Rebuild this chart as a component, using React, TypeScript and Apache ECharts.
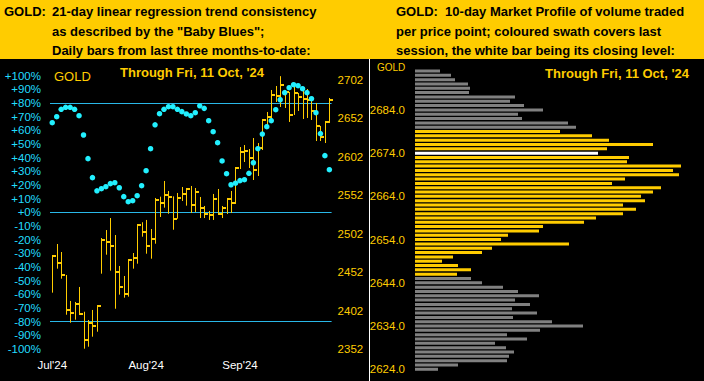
import React, { useEffect, useRef } from "react";
import * as echarts from "echarts";

// ---------- Left panel: daily bars (Jul'24 .. 11 Oct '24) ----------
const monthLabels: { index: number; label: string }[] = [
  { index: 0, label: "Jul'24" },
  { index: 21, label: "Aug'24" },
  { index: 42, label: "Sep'24" },
];

const highs = [2473.9, 2488.6, 2478.2, 2448.3, 2414.5, 2413.2, 2432.7, 2400.5, 2389.7, 2402.8, 2408.3, 2496.4, 2506.8, 2522.4, 2500.3, 2460.0, 2447.0, 2468.7, 2476.9, 2514.3, 2516.9, 2519.9, 2508.1, 2548.5, 2550.2, 2570.6, 2557.6, 2550.6, 2555.0, 2562.8, 2561.5, 2564.1, 2561.5, 2549.8, 2538.1, 2531.6, 2553.7, 2560.2, 2538.1, 2548.5, 2557.6, 2588.8, 2614.8, 2617.4, 2612.2, 2626.5, 2620.0, 2651.3, 2660.4, 2689.0, 2694.2, 2707.0, 2689.0, 2686.4, 2692.9, 2685.1, 2689.0, 2690.3, 2676.0, 2672.1, 2642.2, 2648.7, 2678.6];
const lows = [2425.3, 2456.5, 2443.5, 2396.6, 2386.2, 2390.1, 2396.6, 2352.4, 2355.0, 2368.0, 2374.5, 2450.0, 2474.7, 2453.9, 2404.4, 2422.7, 2418.8, 2420.1, 2456.5, 2463.0, 2498.1, 2476.0, 2469.5, 2489.0, 2523.8, 2535.9, 2528.0, 2507.2, 2521.5, 2544.6, 2538.5, 2529.0, 2530.3, 2522.4, 2522.4, 2519.9, 2519.9, 2526.4, 2522.4, 2527.7, 2529.0, 2540.7, 2586.2, 2595.3, 2587.5, 2571.9, 2577.1, 2610.9, 2639.6, 2648.7, 2673.4, 2666.9, 2665.6, 2647.4, 2656.5, 2661.7, 2651.3, 2652.6, 2650.0, 2622.6, 2622.6, 2620.0, 2646.1];
const closes = [2473.0, 2463.5, 2448.7, 2403.1, 2399.2, 2411.0, 2397.9, 2364.1, 2386.2, 2382.3, 2408.3, 2494.2, 2491.6, 2486.4, 2452.6, 2433.1, 2424.0, 2468.2, 2470.8, 2513.7, 2504.6, 2486.4, 2495.5, 2546.3, 2542.4, 2552.8, 2550.2, 2521.5, 2548.9, 2554.1, 2560.2, 2539.4, 2556.3, 2535.5, 2527.7, 2526.4, 2547.2, 2527.7, 2535.5, 2547.2, 2542.0, 2587.5, 2608.3, 2609.6, 2600.5, 2584.9, 2613.5, 2650.0, 2653.9, 2682.5, 2681.2, 2695.5, 2686.4, 2656.5, 2685.1, 2679.9, 2677.3, 2676.0, 2661.7, 2642.2, 2627.8, 2647.4, 2676.0];

// "Baby Blues": 21-day linear regression trend consistency (%)
const babyBlues = [65.6, 70.0, 75.4, 76.9, 76.9, 75.4, 70.7, 56.6, 39.3, 25.4, 15.8, 17.3, 18.8, 21.0, 21.7, 18.0, 11.5, 7.8, 8.5, 12.2, 19.5, 30.5, 46.6, 64.1, 72.2, 75.4, 77.3, 77.3, 75.4, 73.7, 72.0, 70.7, 72.9, 78.0, 76.1, 67.1, 59.0, 51.0, 37.6, 28.3, 20.2, 21.3, 23.2, 23.9, 28.6, 36.3, 46.6, 57.3, 62.7, 67.1, 75.1, 82.4, 87.6, 91.2, 93.4, 92.7, 90.5, 87.6, 83.2, 72.9, 57.6, 41.5, 31.2];

const refLines = [80, 0, -80];

// ---------- Right panel: 10-day market profile ----------
const profilePrices = [2624, 2625, 2626, 2627, 2628, 2629, 2630, 2631, 2632, 2633, 2634, 2635, 2636, 2637, 2638, 2639, 2640, 2641, 2642, 2643, 2644, 2645, 2646, 2647, 2648, 2649, 2650, 2651, 2652, 2653, 2654, 2655, 2656, 2657, 2658, 2659, 2660, 2661, 2662, 2663, 2664, 2665, 2666, 2667, 2668, 2669, 2670, 2671, 2672, 2673, 2674, 2675, 2676, 2677, 2678, 2679, 2680, 2681, 2682, 2683, 2684, 2685, 2686, 2687, 2688, 2689, 2690, 2691, 2692, 2693];
const profileVolumes = [23, 43, 92, 94, 99, 91, 80, 112, 92, 125, 168, 137, 98, 122, 97, 115, 100, 124, 103, 88, 67, 56, 42, 56, 43, 27, 38, 67, 77, 154, 86, 93, 124, 128, 169, 181, 208, 221, 208, 230, 226, 238, 246, 197, 210, 264, 258, 266, 212, 214, 183, 192, 238, 194, 177, 145, 161, 153, 107, 103, 128, 109, 95, 100, 54, 55, 53, 40, 36, 25];
const sessionLow = 2646;
const sessionHigh = 2679;
const closingLevel = 2674;

const GOLD = "#FFCC00";
const CYAN_TEXT = "#22DDFF";
const CYAN_DOT = "#22F0FF";
const CYAN_LINE = "#29B8E8";
const FONT = "'Liberation Sans', Arial, sans-serif";

export default function App() {
  const ref = useRef<HTMLDivElement>(null);

  useEffect(() => {
    if (!ref.current) return;
    const chart = echarts.init(ref.current, null, { renderer: "svg" });

    const ohlc = highs.map((h, i) => [i, h, lows[i], closes[i]]);
    const dots = babyBlues.map((v, i) => [i, v]);
    const cats = highs.map((_, i) => String(i));
    const monthIdx = monthLabels.map((m) => m.index);

    const profileData = profileVolumes.map((v, i) => {
      const p = profilePrices[i];
      let color = "#808080";
      if (p === closingLevel) color = "#FFFFFF";
      else if (p >= sessionLow && p <= sessionHigh) color = GOLD;
      return { value: v, itemStyle: { color } };
    });

    const headerFont = `bold 13px ${FONT}`;

    chart.setOption({
      animation: false,
      backgroundColor: "#000000",
      grid: [
        { left: 50, top: 75.7, width: 281.6, height: 273.3 },
        { left: 415, top: 68.84, width: 285, height: 302.6 },
      ],
      xAxis: [
        {
          type: "category",
          gridIndex: 0,
          data: cats,
          axisLine: { show: false },
          axisTick: { show: false },
          splitLine: { show: false },
          axisLabel: {
            interval: (i: number) => monthIdx.indexOf(i) >= 0,
            formatter: (_v: string, i: number) => {
              const m = monthLabels.find((x) => x.index === i);
              return m ? m.label : "";
            },
            color: "#FFFFFF",
            fontSize: 11.5,
            fontFamily: FONT,
            margin: 10,
          },
        },
        {
          type: "value",
          gridIndex: 1,
          min: 0,
          max: 285,
          show: false,
        },
      ],
      yAxis: [
        {
          type: "value",
          gridIndex: 0,
          position: "left",
          min: -100,
          max: 100,
          interval: 10,
          splitLine: { show: false },
          axisLine: { show: false },
          axisTick: { show: false },
          axisLabel: {
            formatter: (v: number) => (v >= 0 ? "+" + v + "%" : v + "%"),
            color: CYAN_TEXT,
            fontSize: 11.5,
            fontFamily: FONT,
            margin: 9,
          },
        },
        {
          type: "value",
          gridIndex: 0,
          position: "right",
          min: 2352,
          max: 2707.6,
          interval: 50,
          splitLine: { show: false },
          axisLine: { show: false },
          axisTick: { show: false },
          axisLabel: {
            formatter: (v: number) => String(Math.round(v)),
            color: GOLD,
            fontSize: 11.5,
            fontFamily: FONT,
            margin: 6,
            showMaxLabel: false,
          },
        },
        {
          type: "category",
          gridIndex: 1,
          data: profilePrices.map(String),
          axisLine: { show: false },
          axisTick: { show: false },
          splitLine: { show: false },
          axisLabel: {
            interval: (i: number) => i % 10 === 0,
            formatter: (v: string) => Number(v).toFixed(1),
            color: GOLD,
            fontSize: 11.5,
            fontFamily: FONT,
            margin: 10,
          },
        },
      ],
      series: [
        {
          type: "custom",
          xAxisIndex: 0,
          yAxisIndex: 1,
          data: ohlc,
          encode: { x: 0, y: [1, 2, 3] },
          renderItem: (_params: any, api: any) => {
            const idx = api.value(0);
            const hi = api.coord([idx, api.value(1)]);
            const lo = api.coord([idx, api.value(2)]);
            const cl = api.coord([idx, api.value(3)]);
            const px = Math.round(hi[0]) + 0.5;
            return {
              type: "group",
              children: [
                {
                  type: "line",
                  shape: { x1: px, y1: hi[1], x2: px, y2: lo[1] },
                  style: { stroke: GOLD, lineWidth: 1 },
                },
                {
                  type: "rect",
                  shape: { x: px - 0.5, y: Math.round(cl[1]) - 1, width: 4, height: 2 },
                  style: { fill: GOLD },
                },
              ],
            };
          },
          z: 2,
        },
        {
          type: "scatter",
          xAxisIndex: 0,
          yAxisIndex: 0,
          data: dots,
          symbol: "circle",
          symbolSize: 5.5,
          itemStyle: { color: CYAN_DOT, opacity: 1 },
          z: 3,
          markLine: {
            silent: true,
            symbol: ["none", "none"],
            label: { show: false },
            lineStyle: { color: CYAN_LINE, width: 1, type: "solid", opacity: 1 },
            data: refLines.map((v) => ({ yAxis: v })),
            z: 1,
          },
        },
        {
          type: "bar",
          xAxisIndex: 1,
          yAxisIndex: 2,
          data: profileData,
          barWidth: 3,
        },
      ],
      graphic: [
        { type: "rect", shape: { x: 0, y: 0, width: 704, height: 59 }, style: { fill: GOLD }, z: 10 },
        { type: "line", shape: { x1: 369.5, y1: 59, x2: 369.5, y2: 381 }, style: { stroke: "#FFFFFF", lineWidth: 1 }, z: 10 },
        { type: "text", x: 4, y: 11, style: { text: "GOLD:", font: headerFont, fill: "#000", textVerticalAlign: "middle" }, z: 11 },
        { type: "text", x: 52, y: 11, style: { text: "21-day linear regression trend consistency", font: headerFont, fill: "#000", textVerticalAlign: "middle" }, z: 11 },
        { type: "text", x: 52, y: 31, style: { text: 'as described by the "Baby Blues";', font: headerFont, fill: "#000", textVerticalAlign: "middle" }, z: 11 },
        { type: "text", x: 52, y: 50.5, style: { text: "Daily bars from last three months-to-date:", font: headerFont, fill: "#000", textVerticalAlign: "middle" }, z: 11 },
        { type: "text", x: 396, y: 11, style: { text: "GOLD:  10-day Market Profile of volume traded", font: headerFont, fill: "#000", textVerticalAlign: "middle" }, z: 11 },
        { type: "text", x: 396, y: 31, style: { text: "per price point; coloured swath covers last", font: headerFont, fill: "#000", textVerticalAlign: "middle" }, z: 11 },
        { type: "text", x: 396, y: 50.5, style: { text: "session, the white bar being its closing level:", font: headerFont, fill: "#000", textVerticalAlign: "middle" }, z: 11 },
        { type: "text", x: 54, y: 76.5, style: { text: "GOLD", font: `13px ${FONT}`, fill: GOLD, textVerticalAlign: "middle" }, z: 11 },
        { type: "text", x: 120, y: 72.5, style: { text: "Through Fri, 11 Oct, '24", font: `bold 13px ${FONT}`, fill: GOLD, textVerticalAlign: "middle" }, z: 11 },
        { type: "text", x: 377, y: 67, style: { text: "GOLD", font: `10px ${FONT}`, fill: GOLD, textVerticalAlign: "middle" }, z: 11 },
        { type: "text", x: 545, y: 73, style: { text: "Through Fri, 11 Oct, '24", font: `bold 13px ${FONT}`, fill: GOLD, textVerticalAlign: "middle" }, z: 11 },
      ],
    });

    return () => chart.dispose();
  }, []);

  return (
    <div
      ref={ref}
      style={{ position: "absolute", left: 0, top: 0, width: 704, height: 381, background: "#000" }}
    />
  );
}
